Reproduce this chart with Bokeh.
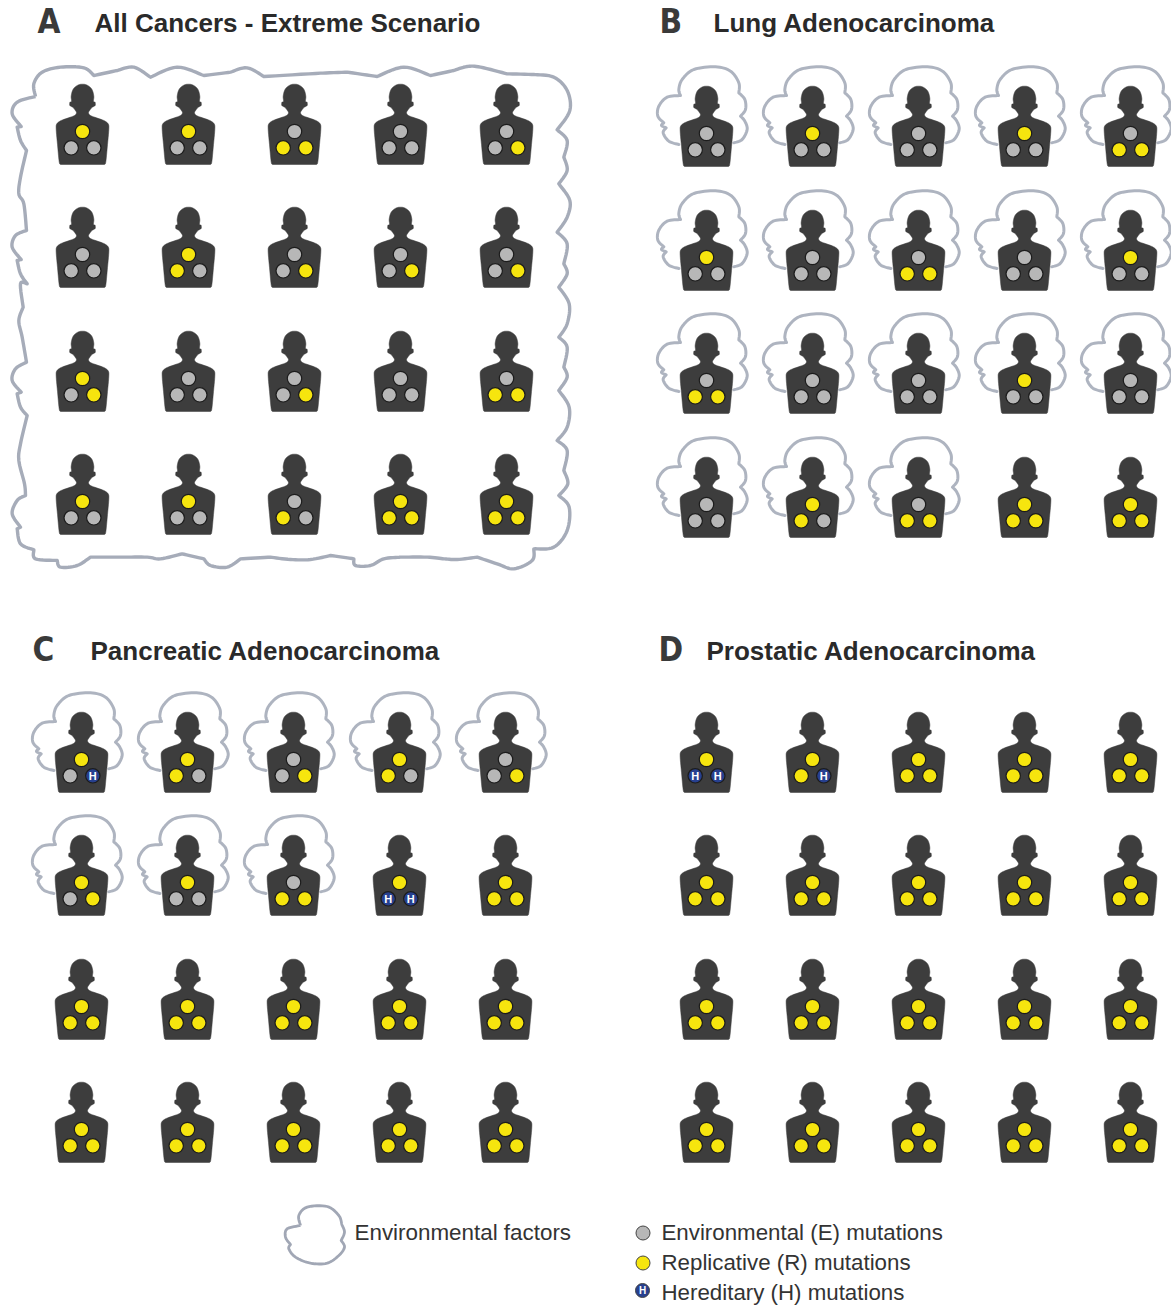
from bokeh.plotting import figure
from bokeh.models import Range1d
from bokeh.core.properties import value
from bokeh.embed import file_html
from bokeh.resources import INLINE

# ---------- data: top / lower-left / lower-right mutation of each person, row by row
# E = environmental, R = replicative, H = hereditary
PANEL_A = ["REE","REE","ERR","EEE","EER",
           "EEE","RRE","EER","EER","EER",
           "RER","EEE","EER","EEE","ERR",
           "REE","REE","ERE","RRR","RRR"]
PANEL_B = ["EEE","REE","EEE","REE","ERR",
           "REE","EEE","ERR","EEE","REE",
           "ERR","EEE","EEE","REE","EEE",
           "EEE","RRE","ERR","RRR","RRR"]
PANEL_C = ["REH","RRE","EER","RRE","EER",
           "RER","REE","ERR","RHH","RRR",
           "RRR","RRR","RRR","RRR","RRR",
           "RRR","RRR","RRR","RRR","RRR"]
PANEL_D = ["RHH","RRH","RRR","RRR","RRR",
           "RRR","RRR","RRR","RRR","RRR",
           "RRR","RRR","RRR","RRR","RRR",
           "RRR","RRR","RRR","RRR","RRR"]
# how many people in each panel have their own cloud (first n)
CLOUDED = {"A": 0, "B": 18, "C": 8, "D": 0}
TITLES = {"A": "All Cancers - Extreme Scenario", "B": "Lung Adenocarcinoma",
          "C": "Pancreatic Adenocarcinoma", "D": "Prostatic Adenocarcinoma"}
LEGEND_LABELS = ["Environmental (E) mutations", "Replicative (R) mutations", "Hereditary (H) mutations"]
CLOUD_LABEL = "Environmental factors"

W, H = 1171, 1305
GREY, YELLOW, NAVY = "#b7b7b7", "#f6e50e", "#27408f"
BODY, RIM, CLOUD = "#3d3d3d", "#1c1c1c", "#aeb4c0"
FILL = {"E": GREY, "R": YELLOW, "H": NAVY}

LAYOUT = {
    "A": ([82, 188, 294, 400, 506], [164, 287, 411, 534]),
    "B": ([706, 812, 918, 1024, 1130], [166, 290, 413, 537]),
    "C": ([81, 187, 293, 399, 505], [792, 915, 1039, 1162]),
    "D": ([706, 812, 918, 1024, 1130], [792, 915, 1039, 1162]),
}
STATES = {"A": PANEL_A, "B": PANEL_B, "C": PANEL_C, "D": PANEL_D}


def spline(pts, n=8):
    """Catmull-Rom through pts; a point with a third element is a cusp."""
    groups, cur = [], []
    for p in pts:
        cur.append(p[:2])
        if len(p) == 3:
            if len(cur) > 1:
                groups.append(cur)
            cur = [p[:2]]
    if len(cur) > 1:
        groups.append(cur)
    xs, ys = [], []
    for g in groups:
        q = [g[0]] + g + [g[-1]]
        for i in range(1, len(q) - 2):
            p0, p1, p2, p3 = q[i - 1], q[i], q[i + 1], q[i + 2]
            for k in range(n):
                t = k / n
                for c, out in ((0, xs), (1, ys)):
                    out.append(0.5 * (2 * p1[c] + (p2[c] - p0[c]) * t
                                      + (2 * p0[c] - 5 * p1[c] + 4 * p2[c] - p3[c]) * t * t
                                      + (3 * p1[c] - p0[c] - 3 * p2[c] + p3[c]) * t ** 3))
        xs.append(g[-1][0]); ys.append(g[-1][1])
    return xs, ys


# right half of the silhouette, in 1/3 px from (centre, base)
HALF = [(66, 0, 1), (70, -8), (75, -60), (79, -106), (77, -122), (64, -132), (42, -140), (24, -147),
        (18, -155), (22, -163), (29, -172, 1), (38, -177), (38, -187, 1), (33, -190), (34, -205),
        (28, -226), (14, -238), (0, -241)]
PERSON = [(x / 3, y / 3, *c) for x, y, *c in HALF] + [(-x / 3, y / 3, *c) for x, y, *c in HALF[-2::-1]]
PX, PY = spline(PERSON, 5)

# small cloud, in 1/3 px from (centre, base)
SMALL = [(250, 245), (275, 235), (290, 205), (283, 180), (270, 165, 1), (285, 145), (283, 115), (265, 95, 1),
         (265, 65), (240, 30), (195, 17), (130, 25), (95, 55), (85, 85), (90, 103, 1), (50, 108), (25, 135),
         (22, 165), (40, 185, 1), (33, 193), (47, 200, 1), (38, 215), (55, 240), (85, 250)]
SX, SY = spline([((x - 168) / 3, (y - 316) / 3, *c) for x, y, *c in SMALL])

# big cloud of panel A, traced in 3x crops
BIG_1 = [(105, 108, 1), (100, 70), (125, 35), (180, 20), (250, 22), (280, 45, 1), (350, 30, 1), (400, 20), (450, 50, 1),
         (530, 20), (610, 45, 1), (690, 35, 1), (740, 22), (790, 48, 1)]
BIG_2 = [(120, 38, 1), (200, 35, 1), (290, 48, 1), (370, 20), (450, 45, 1), (520, 30, 1), (560, 18), (600, 20),
         (680, 40, 1), (760, 42, 1), (820, 50), (860, 90), (868, 150), (830, 208, 1), (860, 240), (850, 290, 1),
         (860, 330), (835, 370, 1), (868, 420), (860, 470), (830, 515, 1), (860, 550), (850, 610, 1), (860, 640),
         (835, 680, 1), (866, 730), (860, 790), (835, 830, 1), (860, 860), (850, 920, 1), (860, 950), (835, 990, 1),
         (866, 1040), (860, 1100), (830, 1140, 1), (860, 1170), (850, 1230, 1), (862, 1270), (835, 1305, 1),
         (866, 1340), (860, 1410), (820, 1460), (760, 1465, 1), (755, 1500), (700, 1525), (650, 1510), (590, 1490, 1),
         (530, 1497), (490, 1495, 1), (440, 1490), (360, 1490, 1), (310, 1495), (270, 1515), (225, 1515), (220, 1495, 1),
         (150, 1485, 1), (90, 1497), (30, 1497)]
BIG_3 = [(810, 1490, 1), (720, 1495, 1), (680, 1520), (630, 1515), (610, 1495, 1), (545, 1480, 1), (480, 1495), (440, 1490),
         (360, 1490), (270, 1490, 1), (230, 1515), (180, 1520), (170, 1500, 1), (105, 1495), (100, 1468, 1), (60, 1450),
         (50, 1405, 1), (60, 1400, 1), (35, 1360), (50, 1320), (75, 1305, 1), (72, 1270), (55, 1200), (60, 1150), (80, 1065, 1),
         (60, 1040), (50, 1000, 1), (62, 995, 1), (35, 960), (45, 925), (78, 905, 1), (65, 830), (55, 780), (68, 740, 1),
         (60, 670), (80, 670, 1), (60, 640), (50, 600, 1), (62, 597, 1), (35, 560), (45, 525), (78, 510, 1), (70, 430), (55, 400),
         (60, 350), (78, 270, 1), (60, 240), (50, 200, 1), (62, 198, 1), (35, 160), (50, 125), (105, 108, 1)]
def _a(pts, ox):
    return [(ox + x / 3, 60 + y / 3, *c) for x, y, *c in pts]
BIG = _a(BIG_1, 0) + _a(BIG_2, 280) + _a(BIG_3, 0)
BX, BY = spline(BIG)

# legend cloud
KEY = [(90, 105, 1), (85, 75), (110, 50), (170, 48), (205, 75), (214, 102, 1), (222, 125), (212, 150, 1), (222, 170),
       (205, 195), (170, 218), (120, 218), (75, 200), (55, 175), (60, 162, 1), (45, 140), (50, 115), (90, 105, 1)]
KX, KY = spline([(270 + x / 3, 1190 + y / 3, *c) for x, y, *c in KEY])

p = figure(width=W, height=H, x_range=Range1d(0, W), y_range=Range1d(H, 0),
           x_axis_type=None, y_axis_type=None, toolbar_location=None, output_backend="svg",
           min_border=0, outline_line_color=None, background_fill_color="white", border_fill_color="white")
p.grid.visible = False

people_x, people_y, dot_x, dot_y, dot_c, h_x, h_y, cl_x, cl_y = [], [], [], [], [], [], [], [], []
for key, (cols, rows) in LAYOUT.items():
    for i, st in enumerate(STATES[key]):
        cx, base = cols[i % 5], rows[i // 5]
        people_x.append([cx + v for v in PX]); people_y.append([base + v for v in PY])
        if i < CLOUDED[key]:
            cl_x.append([cx + v for v in SX]); cl_y.append([base + v for v in SY])
        for m, (dx, dy) in zip(st, [(0, -33), (-11.3, -16.7), (11.3, -16.7)]):
            dot_x.append(cx + dx); dot_y.append(base + dy); dot_c.append(FILL[m])
            if m == "H":
                h_x.append(cx + dx); h_y.append(base + dy)

p.line(BX, BY, line_color="#a6acb9", line_width=3.4, line_join="round")
p.multi_line(cl_x, cl_y, line_color=CLOUD, line_width=3, line_join="round", line_cap="round")
p.patches(people_x, people_y, fill_color=BODY, line_color=BODY, line_width=0.5)
p.circle(x=dot_x, y=dot_y, radius=7.2, fill_color=dot_c, line_color=RIM, line_width=1.2)
H_FONT = value("Liberation Sans")
p.text(x=h_x, y=h_y, text=["H"] * len(h_x), text_color="white", text_font=H_FONT, text_font_style="bold",
       text_font_size="11px", text_align="center", text_baseline="middle")

# titles and panel letters
TX = {"A": (37, 94, 22), "B": (659, 713, 22), "C": (32, 90, 650), "D": (658, 706, 650)}
for key, (lx, tx, by) in TX.items():
    p.text(x=[lx], y=[by - 1], text=[key], text_color="#3a3a3a", text_font=value("DejaVu Sans Condensed"),
           text_font_style="bold", text_font_size="33px", text_baseline="alphabetic")
    p.text(x=[tx], y=[by], text=[TITLES[key]], text_color="#2a2a2a", text_font=value("Liberation Sans"),
           text_font_style="bold", text_font_size="26px", text_baseline="alphabetic")

# legend
p.line(KX, KY, line_color="#a1a7b5", line_width=2.8, line_join="round")
p.text(x=[354], y=[1232], text=[CLOUD_LABEL], text_color="#333333", text_font=value("Liberation Sans"),
       text_font_size="22.4px", text_baseline="alphabetic")
p.circle(x=[642.5, 642.5, 642], y=[1232.5, 1262.5, 1290], radius=7, fill_color=[GREY, YELLOW, NAVY], line_color="#444444", line_width=1)
p.text(x=[642], y=[1290], text=["H"], text_color="white", text_font=H_FONT, text_font_style="bold",
       text_font_size="10px", text_align="center", text_baseline="middle")
p.text(x=[661] * 3, y=[1232, 1262, 1292], text=LEGEND_LABELS, text_color="#333333", text_font=value("Liberation Sans"),
       text_font_size="22.3px", text_baseline="alphabetic")

open("out.html", "w").write(file_html(p, INLINE))
